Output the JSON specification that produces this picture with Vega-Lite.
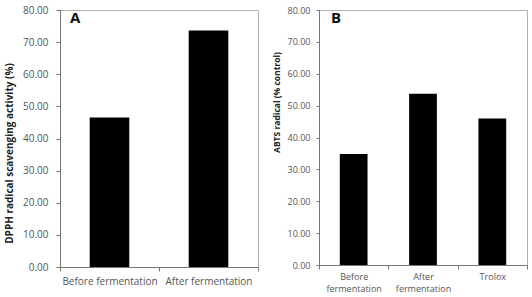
{
  "$schema": "https://vega.github.io/schema/vega-lite/v6.json",
  "padding": {"left": 4, "top": 4, "right": 2, "bottom": 0},
  "background": "white",
  "spacing": 12,
  "config": {
    "font": "Open Sans",
    "view": {"stroke": "#b0b0b0", "strokeWidth": 1},
    "axis": {
      "domainColor": "#777777",
      "tickColor": "#777777",
      "labelColor": "#555555",
      "labelFont": "Open Sans",
      "labelFontSize": 10,
      "titleFont": "Open Sans",
      "titleFontWeight": "bold",
      "titleColor": "#222222",
      "grid": false
    }
  },
  "hconcat": [
    {
      "width": 198,
      "height": 257,
      "title": {"text": "A", "anchor": "start", "frame": "group", "orient": "top", "offset": -21, "dx": 10, "fontSize": 15, "fontWeight": "bold", "font": "Open Sans", "color": "#111111"},
      "data": {
        "values": [
          {"sample": "Before fermentation", "dpph": 46.5},
          {"sample": "After fermentation", "dpph": 73.6}
        ]
      },
      "mark": {"type": "bar", "color": "#000000", "width": {"band": 0.4}},
      "encoding": {
        "x": {
          "field": "sample", "type": "nominal", "sort": null,
          "scale": {"paddingInner": 0, "paddingOuter": 0},
          "axis": {"title": null, "labelAngle": 0, "tickBand": "extent", "tickSize": 4, "labelPadding": 5}
        },
        "y": {
          "field": "dpph", "type": "quantitative",
          "scale": {"domain": [0, 80], "nice": false},
          "axis": {"title": "DPPH radical scavenging activity (%)", "titleFontSize": 10, "values": [0, 10, 20, 30, 40, 50, 60, 70, 80], "format": ".2f", "tickSize": 4, "labelPadding": 8, "titlePadding": 8, "titleY": 143}
        }
      }
    },
    {
      "width": 208,
      "height": 255,
      "title": {"text": "B", "anchor": "start", "frame": "group", "orient": "top", "offset": -20, "dx": 12, "fontSize": 15, "fontWeight": "bold", "font": "Open Sans", "color": "#111111"},
      "data": {
        "values": [
          {"sample": "Before fermentation", "abts": 34.8},
          {"sample": "After fermentation", "abts": 53.7},
          {"sample": "Trolox", "abts": 46.0}
        ]
      },
      "mark": {"type": "bar", "color": "#000000", "width": {"band": 0.4}},
      "encoding": {
        "x": {
          "field": "sample", "type": "nominal", "sort": null,
          "scale": {"paddingInner": 0, "paddingOuter": 0},
          "axis": {"title": null, "labelAngle": 0, "tickBand": "extent", "tickSize": 4, "labelPadding": 3, "labelFontSize": 9, "labelLineHeight": 12.5, "labelExpr": "split(datum.label, ' ')"}
        },
        "y": {
          "field": "abts", "type": "quantitative",
          "scale": {"domain": [0, 80], "nice": false},
          "axis": {"title": "ABTS radical (% control)", "titleFontSize": 8.5, "values": [0, 10, 20, 30, 40, 50, 60, 70, 80], "format": ".2f", "tickSize": 3, "labelPadding": 6, "titlePadding": 6, "titleY": 92, "labelFontSize": 9}
        }
      }
    }
  ]
}
